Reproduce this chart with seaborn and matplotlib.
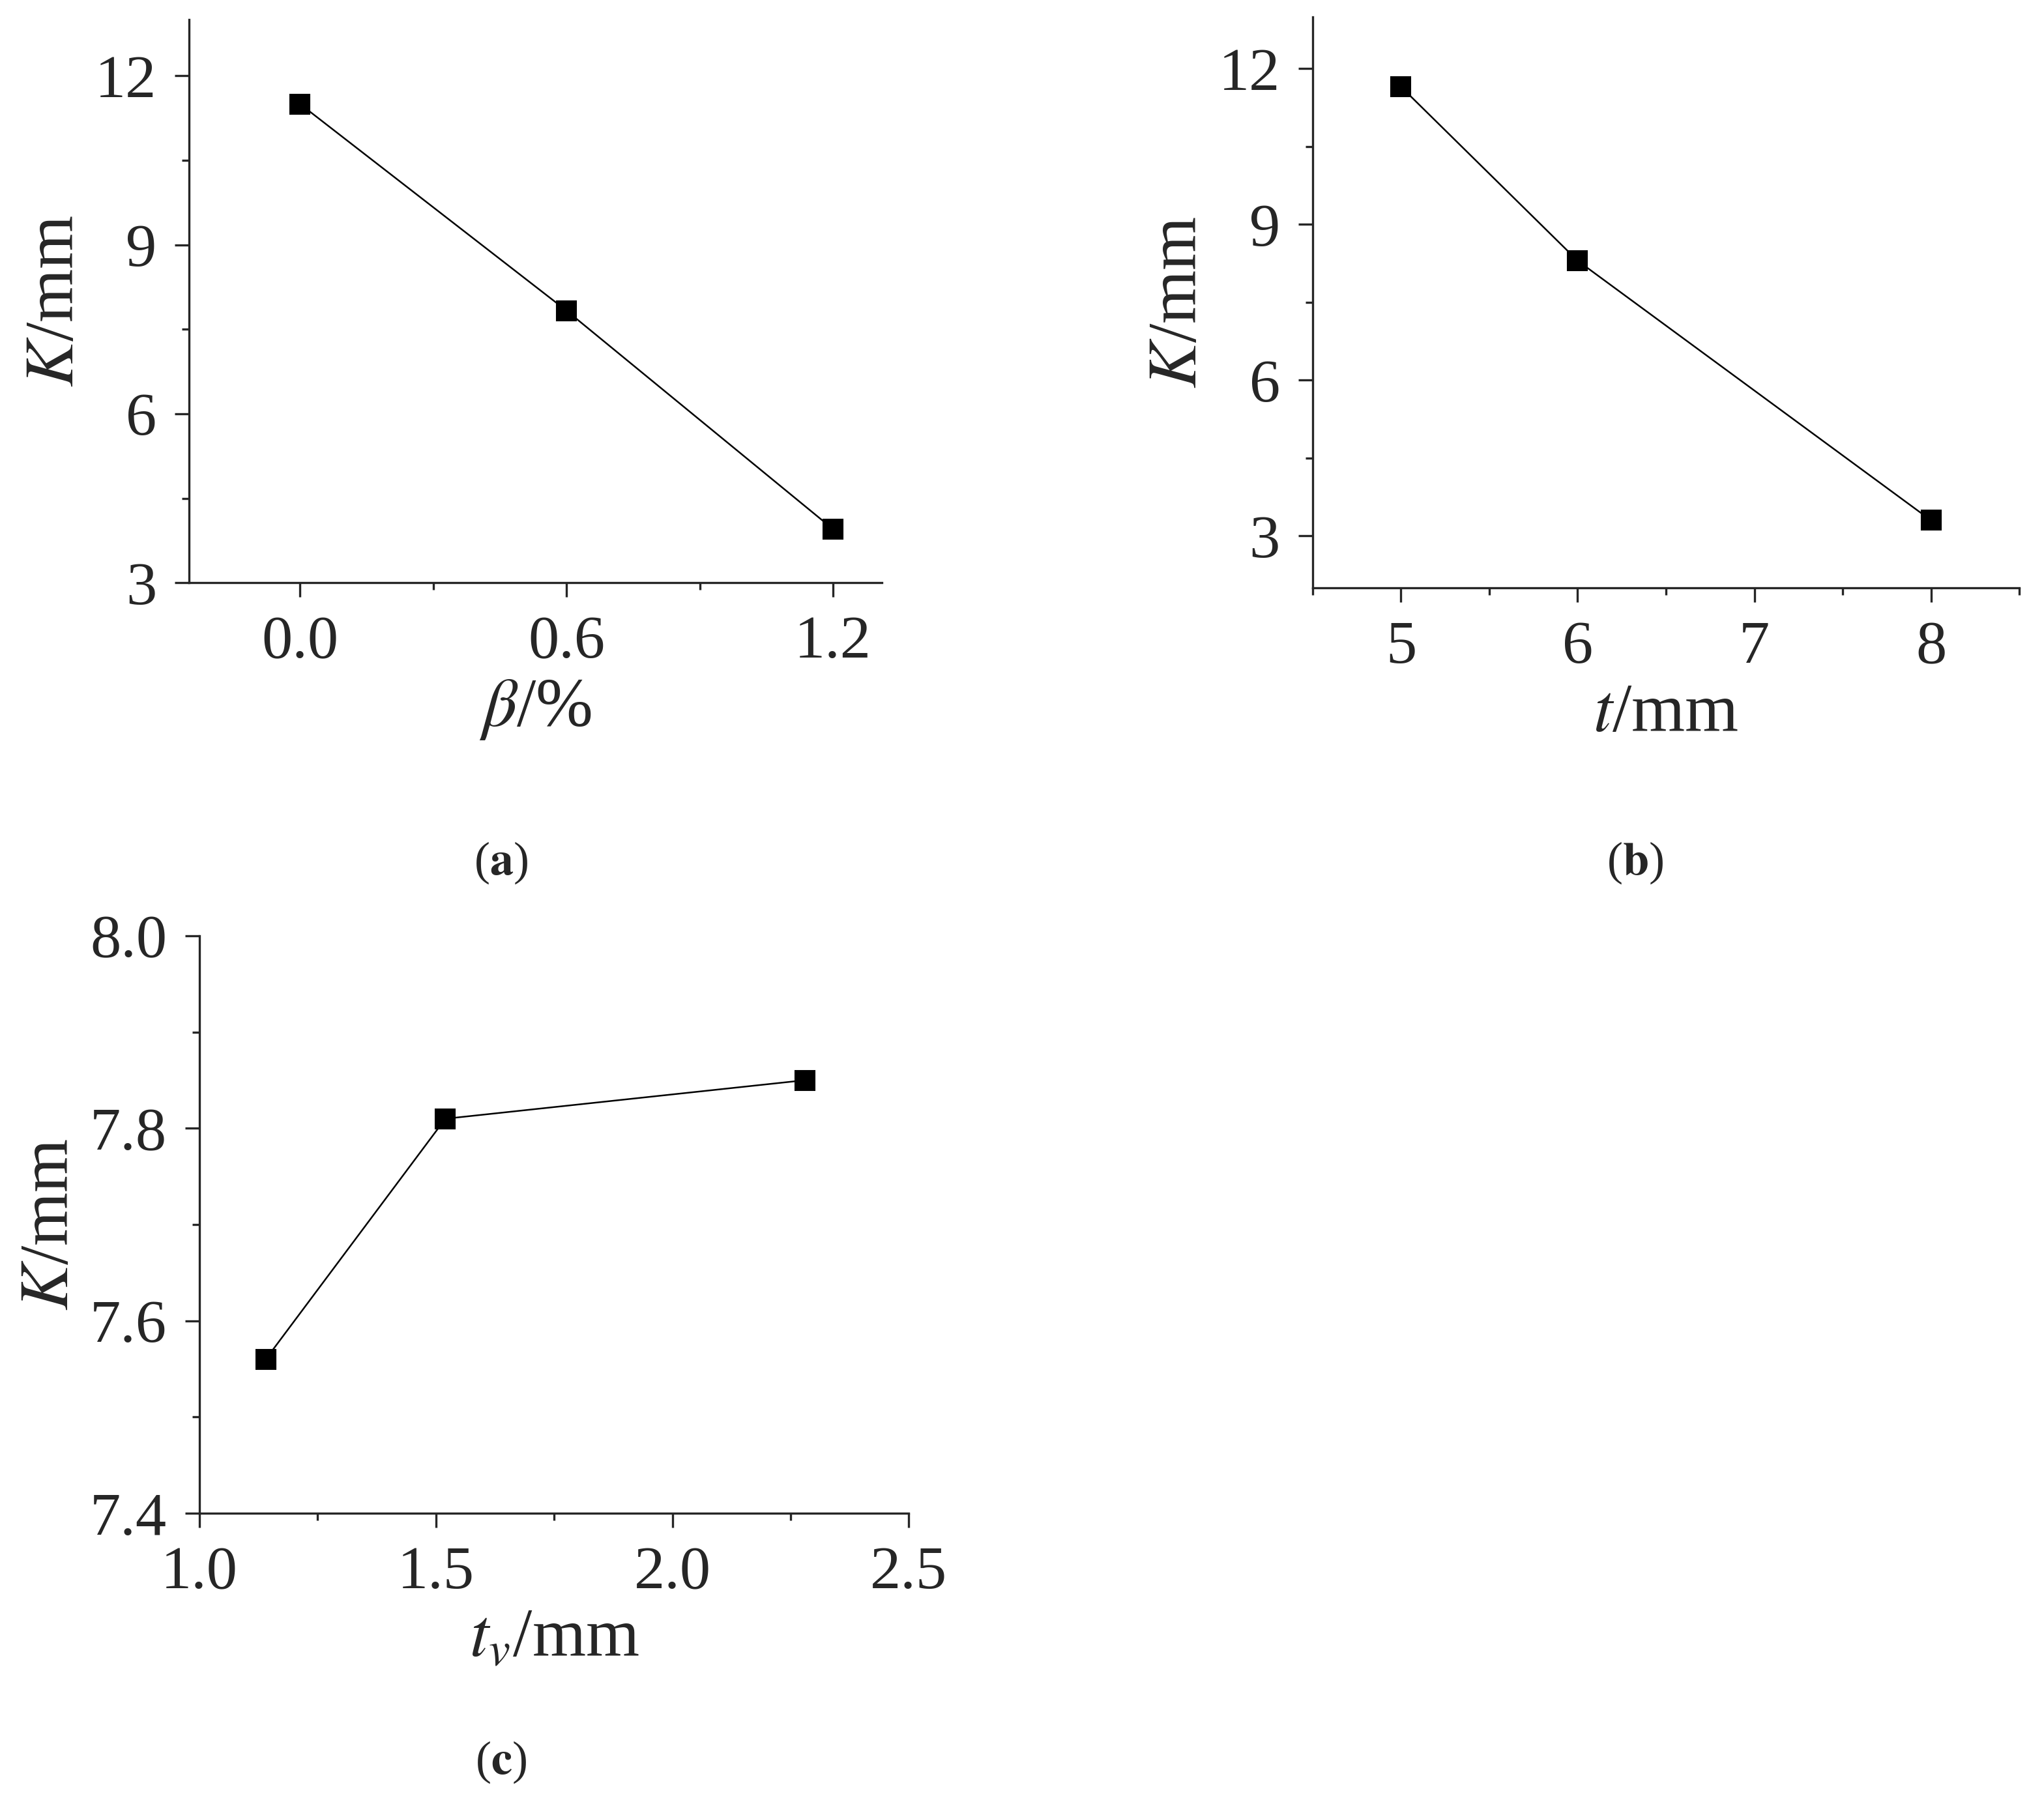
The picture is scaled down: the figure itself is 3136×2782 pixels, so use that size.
import matplotlib
import numpy as np
import seaborn as sns
from matplotlib import pyplot as plt
from matplotlib.ticker import AutoMinorLocator

sns.set_style("ticks")
matplotlib.rcParams["font.family"] = ["Liberation Serif", "DejaVu Serif"]
matplotlib.rcParams["mathtext.fontset"] = "stix"

# data
beta = [0.0, 0.6, 1.2]
k_beta = [11.5, 7.83, 3.95]
t = [5, 6, 8]
k_t = [11.65, 8.3, 3.3]
tv = [1.14, 1.52, 2.28]
k_tv = [7.56, 7.81, 7.85]

fig = plt.figure(figsize=(15.68, 13.91), dpi=200)

panels = [
    ([0.0925, 0.6786, 0.339, 0.3106], beta, k_beta, r"$\beta$/%", (-0.25, 1.31), [0.0, 0.6, 1.2], ["0.0", "0.6", "1.2"], (3, 13), [3, 6, 9, 12], ["3", "6", "9", "12"], "a", 0.245, 0.524),
    ([0.6422, 0.6758, 0.3457, 0.315], t, k_t, r"$t$/mm", (4.5, 8.5), [5, 6, 7, 8], ["5", "6", "7", "8"], (2, 13), [3, 6, 9, 12], ["3", "6", "9", "12"], "b", 0.80, 0.524),
    ([0.0976, 0.1653, 0.347, 0.3185], tv, k_tv, r"$t_v$/mm", (1.0, 2.5), [1.0, 1.5, 2.0, 2.5], ["1.0", "1.5", "2.0", "2.5"], (7.4, 8.0), [7.4, 7.6, 7.8, 8.0], ["7.4", "7.6", "7.8", "8.0"], "c", 0.245, 0.028),
]

for rect, x, y, xlabel, xlim, xt, xtl, ylim, yt, ytl, tag, tx, ty in panels:
    ax = fig.add_axes(rect)
    sns.lineplot(x=x, y=y, ax=ax, color="black", linewidth=0.9, marker="s",
                 markersize=11, markeredgecolor="black")
    ax.set_xlim(*xlim)
    ax.set_ylim(*ylim)
    ax.set_xticks(xt)
    ax.set_xticklabels(xtl)
    ax.set_yticks(yt)
    ax.set_yticklabels(ytl)
    ax.xaxis.set_minor_locator(AutoMinorLocator(2))
    ax.yaxis.set_minor_locator(AutoMinorLocator(2))
    ax.tick_params(which="major", direction="out", length=8, width=1.2, labelsize=34, pad=10)
    ax.tick_params(which="minor", direction="out", length=4, width=1.2)
    for s in ["top", "right"]:
        ax.spines[s].set_visible(False)
    for s in ["left", "bottom"]:
        ax.spines[s].set_linewidth(1.2)
    ax.set_xlabel(xlabel, fontsize=38, labelpad=4)
    ax.set_ylabel(r"$K$/mm", fontsize=38, labelpad=4)
    fig.text(tx, ty, r"($\mathbf{%s}$)" % tag, fontsize=26, ha="center", va="center")

fig.savefig("out.png", dpi=200, facecolor="white")
